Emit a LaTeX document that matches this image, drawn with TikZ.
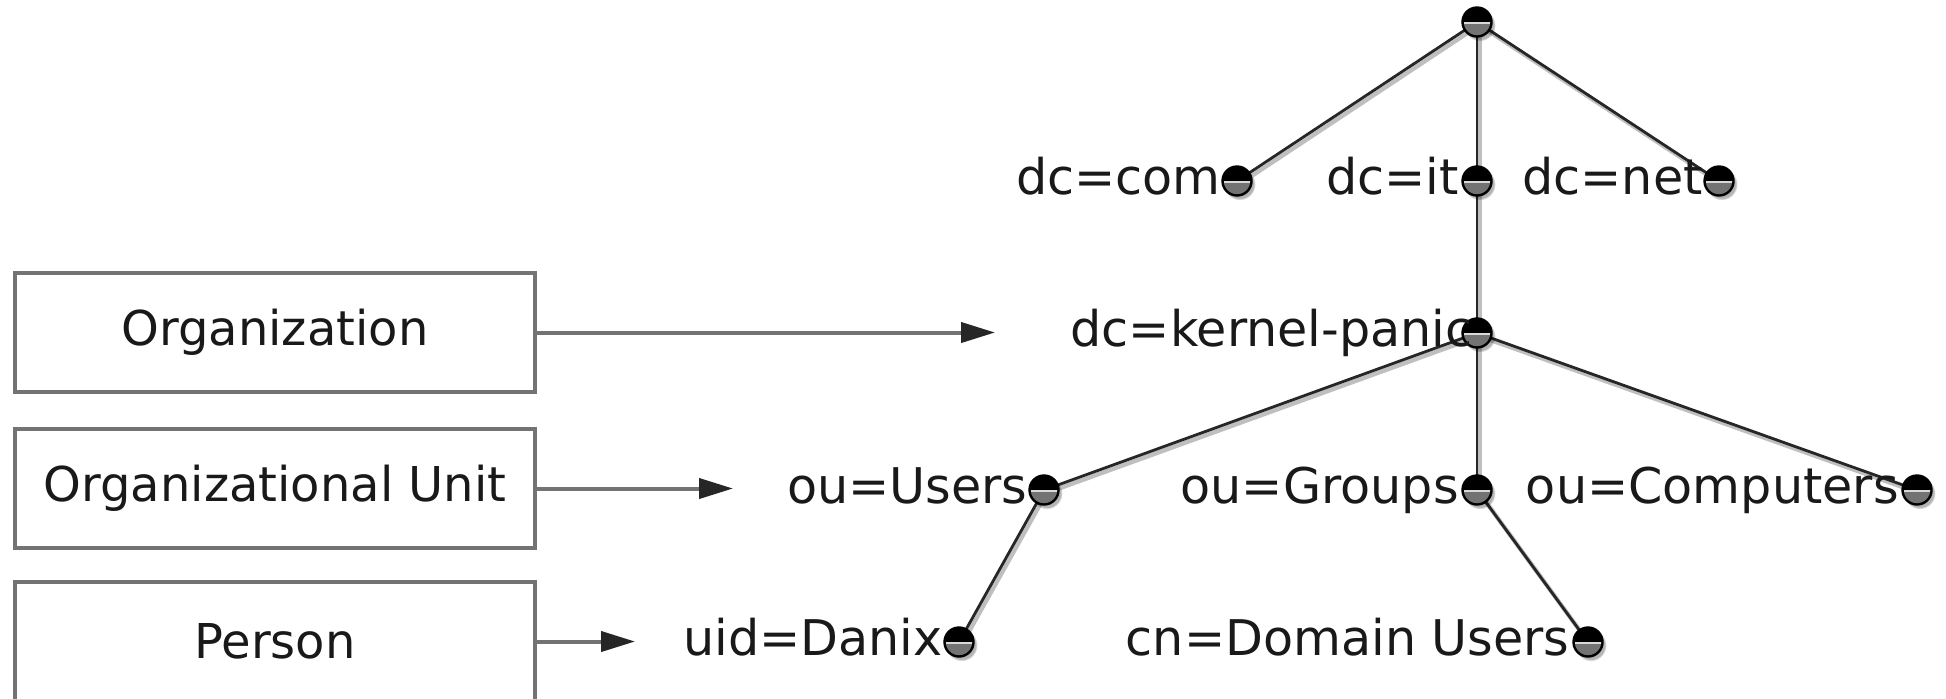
\documentclass[tikz,border=0pt]{standalone}
\usepackage{fontspec}
\setmainfont{DejaVu Sans}
\usetikzlibrary{arrows.meta,shadows,backgrounds}
\begin{document}
\begin{tikzpicture}[x=0.5pt,y=-0.5pt,
  txt/.style={font=\fontsize{24}{28}\selectfont, text=black!90},
  box/.style={txt, draw=black!55, line width=2pt, minimum width=260pt, minimum height=59.5pt, inner sep=0pt},
  lbl/.style={font=\fontsize{24.6}{28}\selectfont, text=black!90, anchor=base east, inner sep=0pt},
  dotn/.style={circle, fill=black, draw=black, line width=1.2pt, minimum size=14.5pt, inner sep=0pt,
    circular drop shadow={shadow xshift=1.2pt, shadow yshift=-1.5pt, fill=black, opacity=0.3},
    path picture={\fill[black!55] ([yshift=-1pt]path picture bounding box.west) rectangle (path picture bounding box.south east);
      \draw[black!15, line width=0.9pt] ([yshift=-0.6pt]path picture bounding box.west) -- ([yshift=-0.6pt]path picture bounding box.east);}},
  treeline/.style={draw=black!85, line width=1.4pt,
    preaction={draw=black!25, line width=2.2pt, transform canvas={xshift=1.2pt, yshift=-1.5pt}}},
  arrowline/.style={draw=black!55, line width=2pt, -{Triangle[length=17pt,width=10pt,color=black!85]}}]
\useasboundingbox (0,0) rectangle (1946,698);

% tree dots
\node[dotn] (root) at (1477,22) {};
\node[dotn] (com) at (1237,181) {};
\node[dotn] (it) at (1477,181) {};
\node[dotn] (net) at (1719,181) {};
\node[dotn] (kp) at (1477,333) {};
\node[dotn] (users) at (1044,490) {};
\node[dotn] (groups) at (1477,490) {};
\node[dotn] (comp) at (1917,490) {};
\node[dotn] (danix) at (959,642) {};
\node[dotn] (domu) at (1588,642) {};

% tree lines
\begin{scope}[on background layer]
\draw[treeline] (root.center) -- (com.center);
\draw[treeline] (root.center) -- (it.center);
\draw[treeline] (root.center) -- (net.center);
\draw[treeline] (it.center) -- (kp.center);
\draw[treeline] (kp.center) -- (users.center);
\draw[treeline] (kp.center) -- (groups.center);
\draw[treeline] (kp.center) -- (comp.center);
\draw[treeline] (users.center) -- (danix.center);
\draw[treeline] (groups.center) -- (domu.center);
\end{scope}

% labels
\node[lbl] (comL) at ([xshift=-8pt,yshift=-6.5pt]com.center) {dc=com};
\node[lbl] (itL) at ([xshift=-9pt,yshift=-6.5pt]it.center) {dc=it};
\node[lbl] (netL) at ([xshift=-8pt,yshift=-6.5pt]net.center) {dc=net};
\node[lbl] (kpL) at ([xshift=-2pt,yshift=-6.5pt]kp.center) {dc=kernel-panic};
\node[lbl] (usersL) at ([xshift=-8pt,yshift=-6.5pt]users.center) {ou=Users};
\node[lbl] (groupsL) at ([xshift=-9pt,yshift=-6.5pt]groups.center) {ou=Groups};
\node[lbl] (compL) at ([xshift=-9pt,yshift=-6.5pt]comp.center) {ou=Computers};
\node[lbl] (danixL) at ([xshift=-8pt,yshift=-6.5pt]danix.center) {uid=Danix};
\node[lbl] (domuL) at ([xshift=-9pt,yshift=-6.5pt]domu.center) {cn=Domain Users};

% legend boxes
\node[box] (org) at (275,332.5) {Organization};
\node[box] (ou) at (275,488.5) {Organizational Unit};
\node[box] (person) at (275,641.5) {Person};

\coordinate (orgT) at (995,332.5);
\coordinate (ouT) at (733,488.5);
\coordinate (personT) at (635,641.5);
\draw[arrowline] (org.east) -- (orgT);
\draw[arrowline] (ou.east) -- (ouT);
\draw[arrowline] (person.east) -- (personT);
\end{tikzpicture}
\end{document}
